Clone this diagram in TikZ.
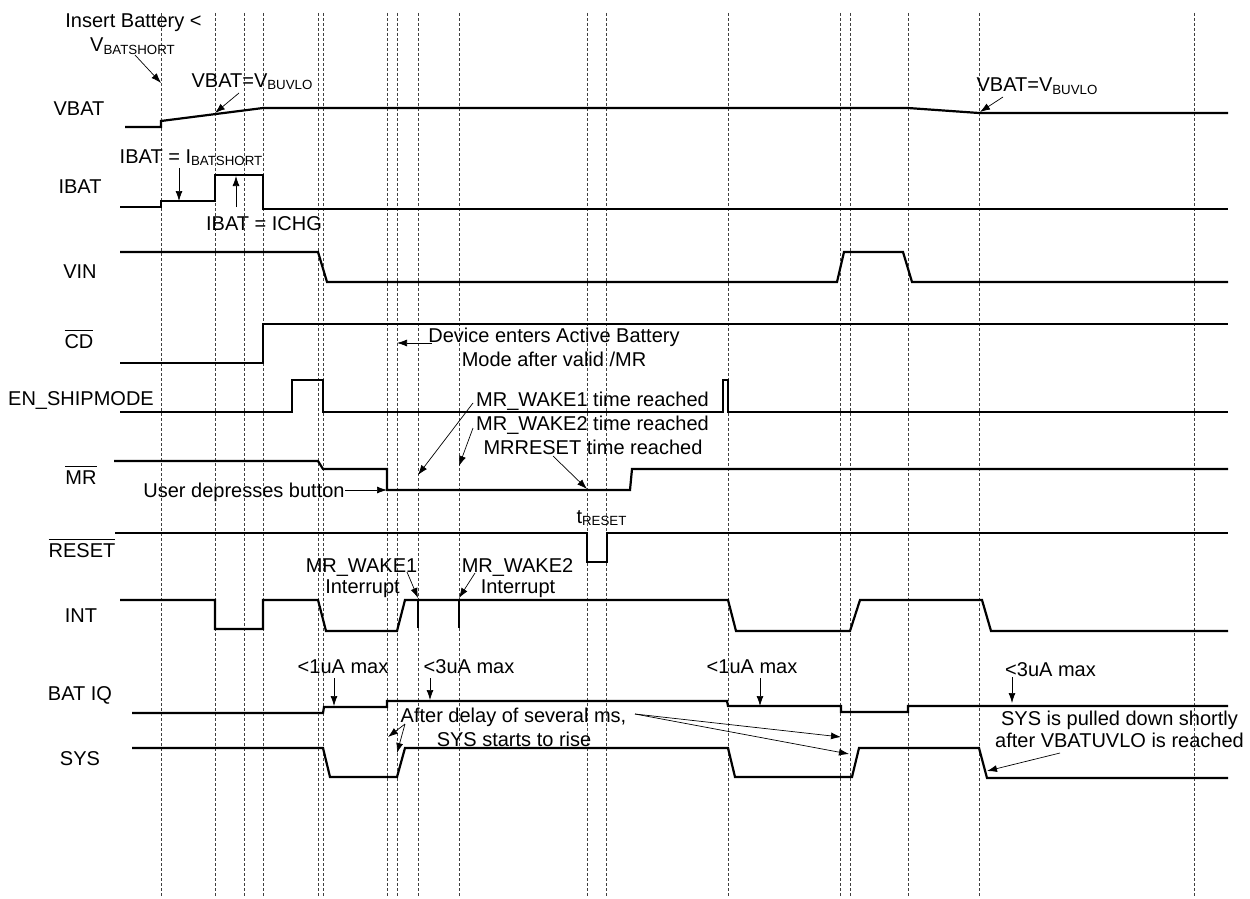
\documentclass[tikz,border=0pt]{standalone}
\usepackage{fontspec}
\setmainfont{Liberation Sans}
\usetikzlibrary{arrows.meta}
\newcommand\lsub[1]{\raisebox{-2.5pt}{\fontsize{13.3}{14}\selectfont #1}}
\newcommand\ovl[1]{\vbox{\hrule height 0.9pt\kern 3.5pt\hbox{#1}}}
\begin{document}
\begin{tikzpicture}[x=1pt,y=-1pt,
  every node/.style={inner sep=0pt,outer sep=0pt,font=\fontsize{20}{24}\selectfont},
  sig/.style={line width=2.2pt,line join=miter},
  gridline/.style={line width=0.7pt,black!75,dash pattern=on 3pt off 2pt},
  lead/.style={line width=0.7pt,-{Latex[length=10pt,width=7pt]}},
  plainlead/.style={line width=0.7pt},
  lbl/.style={anchor=base},
  ann/.style={anchor=base}]
\useasboundingbox (0,0) rectangle (1250,899);
% dashed time markers
\foreach \x in {161,215,244,263,318,323,387,397,418,459,587,606,728,840,850,908,979,1194}
  \draw[gridline] (\x,13) -- (\x,897);
% signal labels
\node[lbl] (lvbat) at (79,115) {VBAT};
\node[lbl] (libat) at (80,193) {IBAT};
\node[lbl] (lvin) at (80,278) {VIN};
\node[lbl] (lcd) at (79,348) {\ovl{CD}};
\node[lbl] (len) at (81,405) {EN\_SHIPMODE};
\node[lbl] (lmr) at (81,484) {\ovl{MR}};
\node[lbl] (lreset) at (82,557) {\ovl{RESET}};
\node[lbl] (lint) at (81,622) {INT};
\node[lbl] (lbatiq) at (80,700) {BAT IQ};
\node[lbl] (lsys) at (80,765) {SYS};
% waveforms
\draw[sig] (125,127) -- (161,127) -- (161,121) -- (263,108) -- (908,108) -- (979,113) -- (1228,113);
\draw[sig] (120,207) -- (161,207) -- (161,201) -- (215,201) -- (215,175) -- (263,175) -- (263,209) -- (1228,209);
\draw[sig] (120,252) -- (318,252) -- (327,282) -- (837,282) -- (844,252) -- (903,252) -- (912,282) -- (1228,282);
\draw[sig] (120,363) -- (263,363) -- (263,324) -- (1228,324);
\draw[sig] (120,412) -- (292,412) -- (292,380) -- (323,380) -- (323,412) -- (723,412) -- (723,380) -- (728,380) -- (728,412) -- (1228,412);
\draw[sig] (114,461) -- (318,461) -- (323,469) -- (387,469) -- (387,490) -- (630,490) -- (632,469) -- (1228,469);
\draw[sig] (115,533) -- (587,533) -- (587,562) -- (607,562) -- (607,533) -- (1228,533);
\draw[sig] (120,600) -- (215,600) -- (215,629) -- (263,629) -- (263,600) -- (318,600) -- (326,631) -- (397,631) -- (405,600) -- (728,600) -- (736,631) -- (850,631) -- (860,600) -- (982,600) -- (991,631) -- (1228,631);
\draw[sig] (418,600) -- (418,628);
\draw[sig] (459,600) -- (459,628);
\draw[sig] (132,713) -- (323,713) -- (324,707) -- (387,707) -- (387,701) -- (727,701) -- (728,706) -- (841,706) -- (841,712) -- (908,712) -- (908,706) -- (1228,706);
\draw[sig] (132,748) -- (323,748) -- (330,777) -- (397,777) -- (405,748) -- (728,748) -- (735,777) -- (852,777) -- (859,748) -- (979,748) -- (987,778) -- (1228,778);
% annotation texts
\node[ann] (tins1) at (133.5,27.5) {Insert Battery <};
\node[ann] (tins2) at (132.5,52) {V\lsub{BATSHORT}};
\node[ann] (tvb1) at (252,87) {VBAT=V\lsub{BUVLO}};
\node[ann] (tib1) at (191,163) {IBAT = I\lsub{BATSHORT}};
\node[ann] (tib2) at (264,230) {IBAT = ICHG};
\node[ann] (tvb2) at (1037,92) {VBAT=V\lsub{BUVLO}};
\node[ann] (tdev1) at (554,342) {Device enters Active Battery};
\node[ann] (tdev2) at (554,366) {Mode after valid /MR};
\node[ann] (tw1) at (592.5,406) {MR\_WAKE1 time reached};
\node[ann] (tw2) at (592.5,430) {MR\_WAKE2 time reached};
\node[ann] (tmrr) at (593,454) {MRRESET time reached};
\node[ann] (tuser) at (244,497) {User depresses button};
\node[ann] (treset) at (601.5,523) {t\lsub{RESET}};
\node[ann] (ti1a) at (361.5,572) {MR\_WAKE1};
\node[ann] (ti1b) at (362.5,593) {Interrupt};
\node[ann] (ti2a) at (517.5,572) {MR\_WAKE2};
\node[ann] (ti2b) at (518,593) {Interrupt};
\node[ann] (tq1) at (343,673) {<1uA max};
\node[ann] (tq2) at (469,673) {<3uA max};
\node[ann] (tq3) at (752,673) {<1uA max};
\node[ann] (tq4) at (1050.5,676) {<3uA max};
\node[ann] (tad1) at (513.5,722) {After delay of several ms,};
\node[ann] (tad2) at (514,746) {SYS starts to rise};
\node[ann] (tsp1) at (1119.5,725) {SYS is pulled down shortly};
\node[ann] (tsp2) at (1119.5,747) {after VBATUVLO is reached};
% leader coordinates
\coordinate (a1s) at (135,55);   \coordinate (a1e) at (161,83);
\coordinate (a2s) at (239,93);   \coordinate (a2e) at (215,113);
\coordinate (a3s) at (179,168);  \coordinate (a3e) at (179,201);
\coordinate (a4s) at (236,207);  \coordinate (a4e) at (236,176);
\coordinate (a5s) at (1003,97);  \coordinate (a5e) at (980,112);
\coordinate (a6s) at (432,343);  \coordinate (a6e) at (397,343);
\coordinate (a7s) at (473,403);  \coordinate (a7e) at (418,475);
\coordinate (a8s) at (473,428);  \coordinate (a8e) at (459,466);
\coordinate (a9s) at (553,456);  \coordinate (a9e) at (587,489);
\coordinate (a10s) at (345,490); \coordinate (a10e) at (387,490);
\coordinate (a11s) at (407,572); \coordinate (a11e) at (418,598);
\coordinate (a12s) at (475,573); \coordinate (a12e) at (459,598);
\coordinate (a13s) at (334,678); \coordinate (a13e) at (334,706);
\coordinate (a14s) at (430,678); \coordinate (a14e) at (430,700);
\coordinate (a15s) at (760,678); \coordinate (a15e) at (760,706);
\coordinate (a16s) at (1012,677); \coordinate (a16e) at (1012,703);
\coordinate (a17s) at (405,724); \coordinate (a17e) at (388,737); \coordinate (a17f) at (397,753);
\coordinate (a18s) at (635,714); \coordinate (a18e) at (841,737); \coordinate (a18f) at (849,754);
\coordinate (a19s) at (1060,753); \coordinate (a19e) at (987,771);
\foreach \n in {a1,a2,a3,a4,a5,a6,a7,a8,a9,a10,a11,a12,a13,a14,a15,a16,a19}
  \draw[lead] (\n s) -- (\n e);
\draw[lead] (a17s) -- (a17e);
\draw[lead] (a17s) -- (a17f);
\draw[lead] (a18s) -- (a18e);
\draw[lead] (a18s) -- (a18f);
\end{tikzpicture}
\end{document}
